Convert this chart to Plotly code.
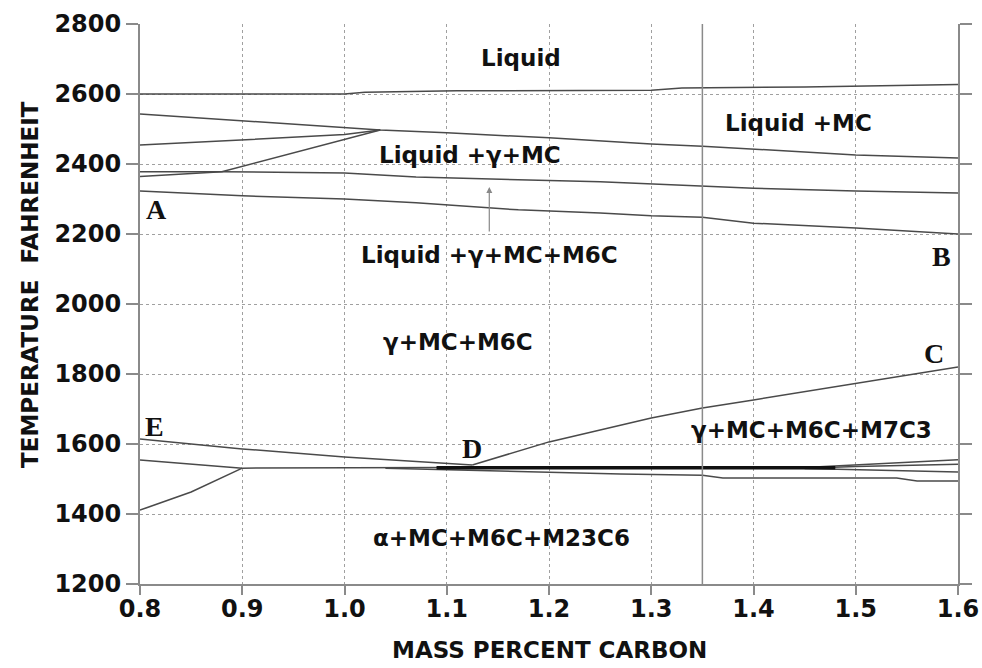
import plotly.graph_objects as go

# ---- data ----
liquidus_x = [0.8, 1.0, 1.02, 1.11, 1.3, 1.33, 1.45, 1.5, 1.55, 1.6]
liquidus_T = [2600, 2600, 2605, 2609, 2611, 2617, 2620, 2623, 2626, 2627]

upper_x = [0.8, 0.9, 1.0, 1.035, 1.1, 1.2, 1.3, 1.35, 1.5, 1.6]
upper_T = [2543, 2523, 2503, 2497, 2489, 2475, 2457, 2451, 2426, 2417]

branch_x = [0.8, 0.9, 1.0, 1.035]
branch_T = [2454, 2470, 2484, 2497]

kink_x = [0.8, 0.88, 1.035]
kink_T = [2364, 2378, 2497]

mid_x = [0.8, 0.88, 1.0, 1.07, 1.25, 1.3, 1.35, 1.4, 1.5, 1.6]
mid_T = [2378, 2378, 2374, 2363, 2349, 2343, 2337, 2331, 2323, 2317]

ab_x = [0.8, 0.9, 1.0, 1.07, 1.17, 1.25, 1.3, 1.35, 1.4, 1.5, 1.6]
ab_T = [2323, 2309, 2300, 2289, 2269, 2260, 2252, 2248, 2231, 2217, 2200]

e_x = [0.8, 0.9, 1.0, 1.1, 1.125]
e_T = [1614, 1586, 1563, 1546, 1540]

dc_x = [1.125, 1.2, 1.3, 1.35, 1.4, 1.5, 1.6]
dc_T = [1540, 1606, 1674, 1703, 1726, 1774, 1820]

solvus_x = [0.8, 0.9, 1.1, 1.3, 1.45, 1.5, 1.55, 1.6]
solvus_T = [1554, 1531, 1533, 1531, 1533, 1540, 1548, 1555]

rise_x = [0.8, 0.85, 0.9]
rise_T = [1411, 1463, 1531]

low_x = [1.04, 1.19, 1.27, 1.35, 1.37, 1.54, 1.56, 1.6]
low_T = [1531, 1520, 1514, 1511, 1503, 1503, 1494, 1494]

brb_x = [1.45, 1.5, 1.6]
brb_T = [1531, 1536, 1542]

brc_x = [1.45, 1.6]
brc_T = [1530, 1520]

thick_x = [1.09, 1.48]
thick_T = [1532, 1532]

vline_x = 1.35

x_ticks = [0.8, 0.9, 1.0, 1.1, 1.2, 1.3, 1.4, 1.5, 1.6]
x_ticklabels = ["0.8", "0.9", "1.0", "1.1", "1.2", "1.3", "1.4", "1.5", "1.6"]
y_ticks = [1200, 1400, 1600, 1800, 2000, 2200, 2400, 2600, 2800]

region_labels = ["Liquid", "Liquid +MC", "Liquid +γ+MC", "Liquid +γ+MC+M6C",
                 "γ+MC+M6C", "γ+MC+M6C+M7C3", "α+MC+M6C+M23C6"]
region_x = [1.173, 1.444, 1.123, 1.142, 1.111, 1.457, 1.154]
region_T = [2703, 2517, 2426, 2140, 1891, 1640, 1331]

point_labels = ["A", "B", "C", "D", "E"]
point_x = [0.816, 1.584, 1.577, 1.125, 0.814]
point_T = [2271, 2137, 1860, 1586, 1651]

arrow_x = 1.1416
arrow_T0 = 2203
arrow_T1 = 2334

# ---- figure ----
fig = go.Figure()
line_col = "#4a4a4a"
for xs, ts in [(liquidus_x, liquidus_T), (upper_x, upper_T), (branch_x, branch_T),
               (kink_x, kink_T), (mid_x, mid_T), (ab_x, ab_T), (e_x, e_T),
               (dc_x, dc_T), (solvus_x, solvus_T), (rise_x, rise_T), (low_x, low_T),
               (brb_x, brb_T), (brc_x, brc_T)]:
    fig.add_trace(go.Scatter(x=xs, y=ts, mode="lines",
                             line=dict(color=line_col, width=1.5), hoverinfo="skip"))
fig.add_trace(go.Scatter(x=thick_x, y=thick_T, mode="lines",
                         line=dict(color="#111111", width=3.5), hoverinfo="skip"))
fig.add_trace(go.Scatter(x=[vline_x, vline_x], y=[y_ticks[0], y_ticks[-1]], mode="lines",
                         line=dict(color="#8a8a8a", width=1.5), hoverinfo="skip"))

for t, xv, yv in zip(region_labels, region_x, region_T):
    fig.add_annotation(x=xv, y=yv, text=t, showarrow=False,
                       font=dict(family="DejaVu Sans", size=23, color="#111", weight="bold"))
for t, xv, yv in zip(point_labels, point_x, point_T):
    fig.add_annotation(x=xv, y=yv, text=t, showarrow=False,
                       font=dict(family="Liberation Serif", size=28, color="#111", weight="bold"))

fig.add_annotation(x=arrow_x, y=arrow_T1, ax=arrow_x, ay=arrow_T0, axref="x", ayref="y",
                   xref="x", yref="y", text="", showarrow=True, arrowhead=2,
                   arrowsize=1, arrowwidth=1.2, arrowcolor="#888")

fig.add_annotation(x=0.5, y=0, xref="paper", yref="paper", yshift=-66,
                   text="MASS PERCENT CARBON", showarrow=False, yanchor="middle",
                   font=dict(family="DejaVu Sans", size=23, color="#111", weight="bold"))
fig.add_annotation(x=0, y=0.534, xref="paper", yref="paper", xshift=-110,
                   text="TEMPERATURE  FAHRENHEIT", showarrow=False, textangle=-90,
                   xanchor="center", yanchor="middle",
                   font=dict(family="DejaVu Sans", size=23, color="#111", weight="bold"))

fig.update_layout(
    width=982, height=668, showlegend=False,
    paper_bgcolor="white", plot_bgcolor="white",
    margin=dict(l=140, r=24, t=24, b=84, autoexpand=False),
)
fig.update_xaxes(range=[0.8, 1.6], tickvals=x_ticks, ticktext=x_ticklabels,
                 automargin=False, ticklabelstandoff=-7,
                 showline=True, linecolor="#8a8a8a", linewidth=2,
                 ticks="outside", ticklen=9, tickcolor="#8a8a8a", tickwidth=1.5,
                 showgrid=True, gridcolor="#a0a0a0", griddash="dot", gridwidth=1,
                 zeroline=False,
                 tickfont=dict(family="DejaVu Sans", size=24, color="#111", weight="bold"))
fig.update_yaxes(range=[1200, 2800], tickvals=y_ticks,
                 automargin=False,
                 showline=True, linecolor="#8a8a8a", linewidth=2, mirror="allticks",
                 ticks="outside", ticklen=12, tickcolor="#8a8a8a", tickwidth=1.5,
                 showgrid=True, gridcolor="#a0a0a0", griddash="dot", gridwidth=1,
                 zeroline=False,
                 tickfont=dict(family="DejaVu Sans", size=24, color="#111", weight="bold"))

fig.write_html("out.html", config={"displayModeBar": False},
               post_script="document.body.style.margin='0';")
